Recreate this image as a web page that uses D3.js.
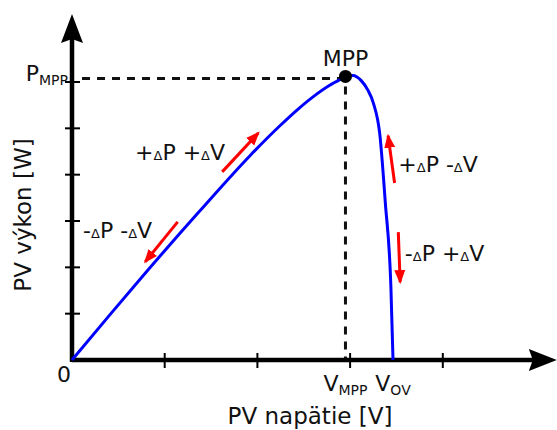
<!DOCTYPE html>
<html>
<head>
<meta charset="utf-8">
<script src="https://cdn.jsdelivr.net/npm/d3@7"></script>
<style>
  html, body { margin: 0; padding: 0; background: #fff; }
  svg { display: block; font-family: "DejaVu Sans", sans-serif; }
</style>
</head>
<body>
<svg id="chart" width="557" height="430"></svg>
<script>
// P-V curve (x: voltage in tick units, y: power in tick units)
const curveV = [0, 0.41, 0.84, 1.38, 1.92, 2.24, 2.43, 2.60, 2.78, 2.89, 2.95, 3.03, 3.12, 3.19, 3.25, 3.32, 3.38, 3.44, 3.463]
const curveP = [0, 0.98, 1.99, 3.22, 4.41, 5.05, 5.40, 5.68, 5.93, 6.05, 6.11, 6.14, 6.03, 5.83, 5.55, 4.88, 3.39, 1.58, 0]

const mpp = {v: 2.95, p: 6.12}
const vOV = 3.463

const xTicks = [1, 2, 3, 4]
const yTicks = [1, 2, 3, 4, 5, 6]

// direction arrows: [tailV, tailP, tipV, tipP]
const arrows = [
  [1.62, 4.06, 2.01, 4.90],
  [1.14, 2.98, 0.79, 2.12],
  [3.48, 3.82, 3.41, 4.84],
  [3.52, 2.76, 3.54, 1.68],
]
// annotation labels: sign of dP, sign of dV, anchor position
const notes = [
  {dp: "+", dv: "+", v: 0.68, p: 4.32},
  {dp: "-", dv: "-", v: 0.12, p: 2.63},
  {dp: "+", dv: "-", v: 3.52, p: 4.06},
  {dp: "-", dv: "+", v: 3.59, p: 2.14},
]

const svg = d3.select("#chart")
const x = d3.scaleLinear().domain([0, 5]).range([72, 535.5])
const y = d3.scaleLinear().domain([0, 6]).range([360, 82])

const ink = "#111"

svg.append("defs").append("marker")
  .attr("id", "redHead")
  .attr("markerUnits", "userSpaceOnUse")
  .attr("viewBox", "0 -6 14 12")
  .attr("refX", 12).attr("refY", 0)
  .attr("markerWidth", 14).attr("markerHeight", 12)
  .attr("orient", "auto")
  .append("path")
  .attr("d", "M0,-5.5L14,0L0,5.5Z")
  .attr("fill", "#ff0000")

// dashed guides to the MPP
svg.append("line")
  .attr("x1", 82).attr("x2", x(mpp.v))
  .attr("y1", y(mpp.p) + 2).attr("y2", y(mpp.p) + 2)
  .attr("stroke", ink).attr("stroke-width", 3).attr("stroke-dasharray", "8,7")
svg.append("line")
  .attr("x1", x(mpp.v)).attr("x2", x(mpp.v))
  .attr("y1", y(mpp.p) + 10).attr("y2", y(0))
  .attr("stroke", ink).attr("stroke-width", 3).attr("stroke-dasharray", "8,7")

// axes
const xEnd = x(5.23), yEnd = y(7.47)
svg.append("line")
  .attr("x1", x(0)).attr("x2", xEnd - 20).attr("y1", y(0)).attr("y2", y(0))
  .attr("stroke", "#000").attr("stroke-width", 4.5)
svg.append("line")
  .attr("x1", x(0)).attr("x2", x(0)).attr("y1", y(0) + 2).attr("y2", yEnd + 20)
  .attr("stroke", "#000").attr("stroke-width", 4.5)
svg.append("path")
  .attr("d", `M${xEnd},${y(0)}L${xEnd - 28},${y(0) - 11}L${xEnd - 24},${y(0)}L${xEnd - 28},${y(0) + 11}Z`)
  .attr("fill", "#000")
svg.append("path")
  .attr("d", `M${x(0)},${yEnd}L${x(0) - 11},${yEnd + 29}L${x(0)},${yEnd + 25}L${x(0) + 11},${yEnd + 29}Z`)
  .attr("fill", "#000")

svg.append("g").selectAll("line").data(xTicks).join("line")
  .attr("x1", (d) => x(d)).attr("x2", (d) => x(d))
  .attr("y1", y(0) - 7).attr("y2", y(0) + 8)
  .attr("stroke", "#000").attr("stroke-width", 2)
svg.append("g").selectAll("line").data(yTicks).join("line")
  .attr("x1", x(0) - 7).attr("x2", x(0) + 8)
  .attr("y1", (d) => y(d)).attr("y2", (d) => y(d))
  .attr("stroke", "#000").attr("stroke-width", 2)

// P-V curve
const pts = curveV.map((v, i) => ({v, p: curveP[i]}))
svg.append("path")
  .datum(pts)
  .attr("fill", "none")
  .attr("stroke", "#0000ff")
  .attr("stroke-width", 3)
  .attr("d", d3.line().x((d) => x(d.v)).y((d) => y(d.p)).curve(d3.curveMonotoneX))

svg.append("circle")
  .attr("cx", x(mpp.v)).attr("cy", y(mpp.p)).attr("r", 6.5)
  .attr("fill", "#000")

// red arrows
svg.append("g").selectAll("line").data(arrows).join("line")
  .attr("x1", (d) => x(d[0])).attr("y1", (d) => y(d[1]))
  .attr("x2", (d) => x(d[2])).attr("y2", (d) => y(d[3]))
  .attr("stroke", "#ff0000").attr("stroke-width", 3)
  .attr("marker-end", "url(#redHead)")

// labels
const big = 22, small = 13
function subLabel(g, main, sub) {
  g.append("tspan").text(main)
  g.append("tspan").attr("font-size", 14).attr("dy", 4).text(sub)
}

svg.append("text")
  .attr("x", x(mpp.v)).attr("y", y(mpp.p) - 10)
  .attr("text-anchor", "middle").attr("font-size", big).attr("fill", ink)
  .text("MPP")

svg.append("text")
  .attr("x", 64).attr("y", 382)
  .attr("text-anchor", "middle").attr("font-size", big).attr("fill", ink)
  .text("0")

svg.append("text")
  .attr("x", 68).attr("y", y(6) - 1)
  .attr("text-anchor", "end").attr("font-size", big).attr("fill", ink)
  .call((t) => subLabel(t, "P", "MPP"))

svg.append("text")
  .attr("x", x(mpp.v)).attr("y", 391)
  .attr("text-anchor", "middle").attr("font-size", big).attr("fill", ink)
  .call((t) => subLabel(t, "V", "MPP"))

svg.append("text")
  .attr("x", x(vOV)).attr("y", 391)
  .attr("text-anchor", "middle").attr("font-size", big).attr("fill", ink)
  .call((t) => subLabel(t, "V", "OV"))

svg.append("g").selectAll("text").data(notes).join("text")
  .attr("x", (d) => x(d.v)).attr("y", (d) => y(d.p))
  .attr("font-size", big).attr("fill", ink)
  .each(function (d) {
    const t = d3.select(this)
    t.append("tspan").text(d.dp)
    t.append("tspan").attr("font-size", small).text("\u0394")
    t.append("tspan").text("P " + d.dv)
    t.append("tspan").attr("font-size", small).text("\u0394")
    t.append("tspan").text("V")
  })

svg.append("text")
  .attr("x", 310).attr("y", 424)
  .attr("text-anchor", "middle").attr("font-size", 23).attr("fill", ink)
  .text("PV napätie [V]")

svg.append("text")
  .attr("transform", "translate(31,215) rotate(-90)")
  .attr("text-anchor", "middle").attr("font-size", 23).attr("fill", ink)
  .text("PV výkon [W]")
</script>
</body>
</html>
